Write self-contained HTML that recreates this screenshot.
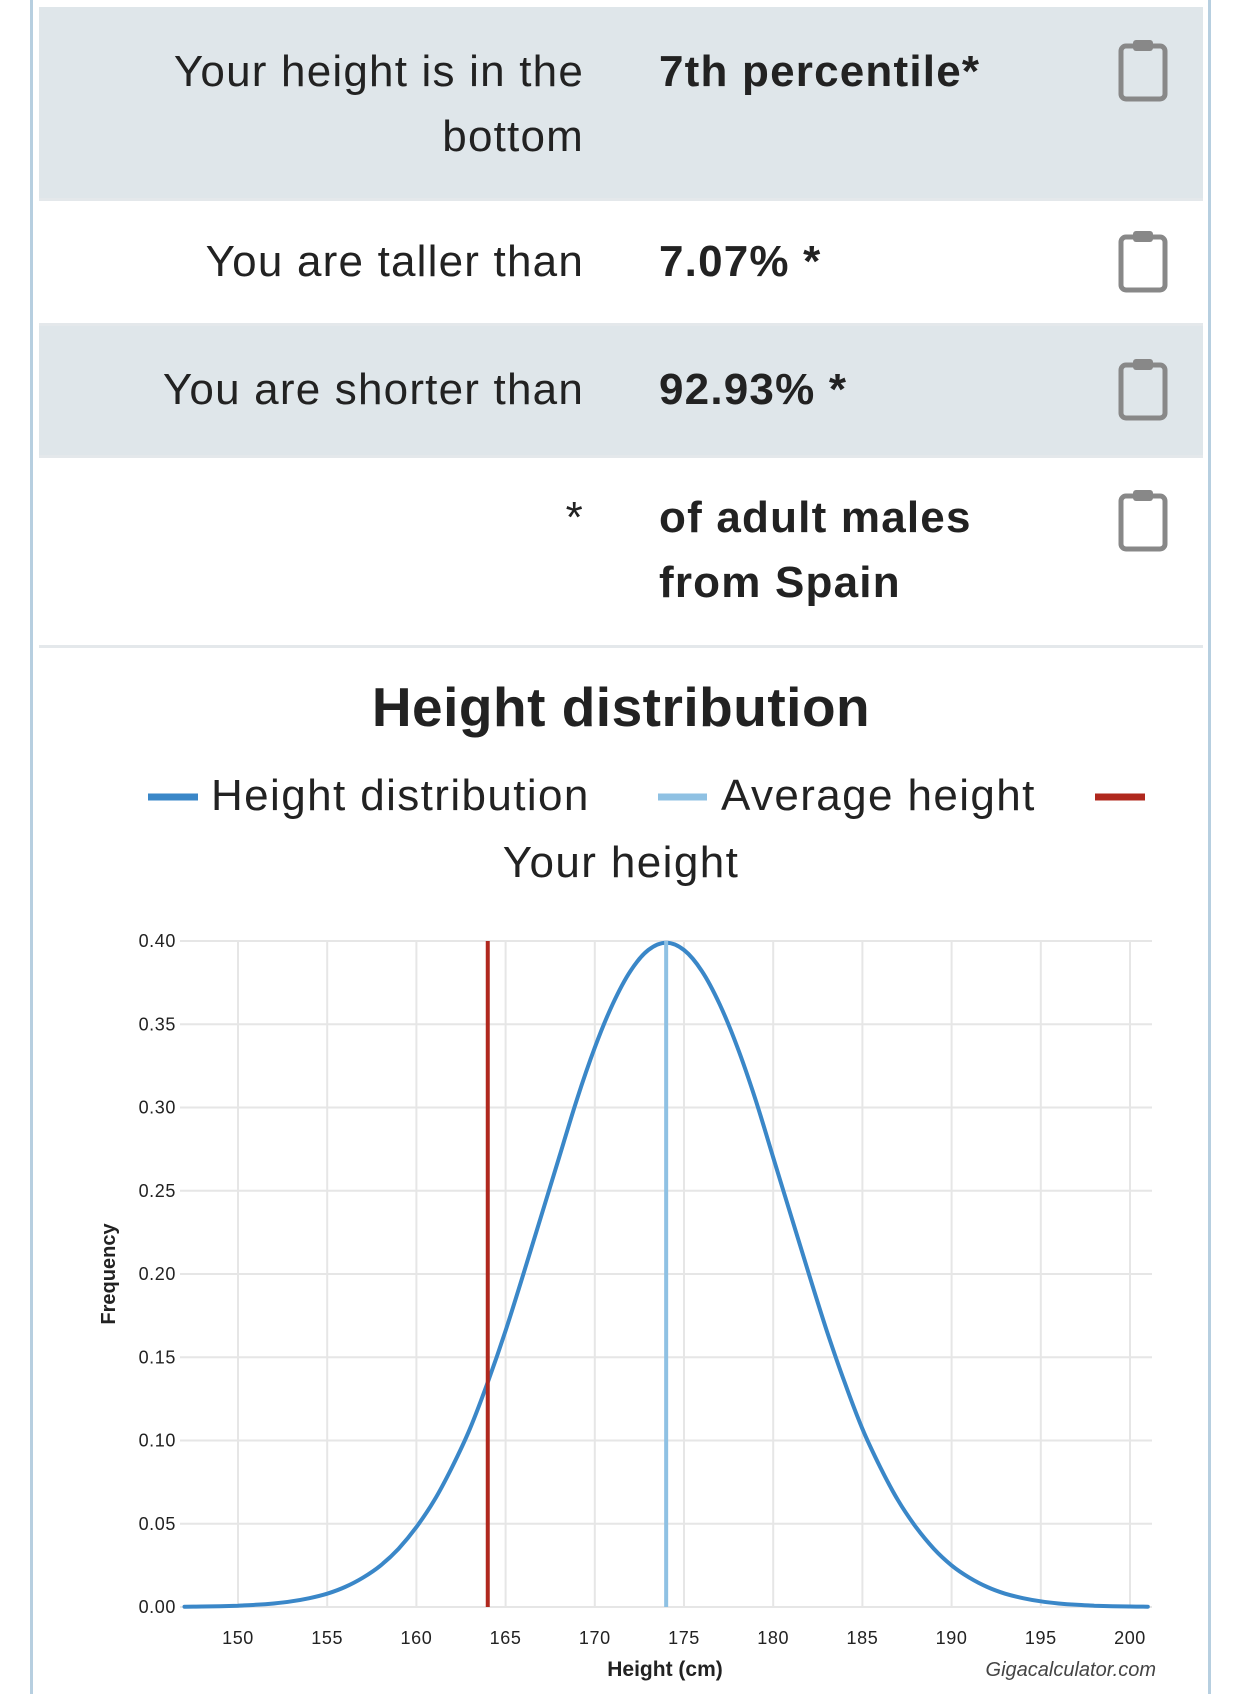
<!DOCTYPE html>
<html><head><meta charset="utf-8">
<style>
body{margin:0;width:1242px;height:1694px;background:#fff;position:relative;overflow:hidden;font-family:"Liberation Sans",sans-serif;color:#222}
.border{position:absolute;top:0;bottom:0;width:3px;background:#b7cfe0}
.row{position:absolute;left:39px;width:1164px}
.lbl{position:absolute;right:619px;text-align:right;font-size:44px;line-height:65px;letter-spacing:1.2px}
.val{position:absolute;left:620px;font-size:44px;font-weight:bold;line-height:65px;letter-spacing:1.2px}
.clip{position:absolute;left:1079px;width:50px;height:64px}
.sep{position:absolute;left:39px;width:1164px;height:3px;background:#e4e8eb}
</style></head><body>
<div class="border" style="left:30px"></div>
<div class="border" style="left:1208px"></div>

<div class="row" style="top:7px;height:191px;background:#dfe6ea">
 <div class="lbl" style="top:32px">Your height is in the<br>bottom</div>
 <div class="val" style="top:32px">7th percentile*</div>
 <svg class="clip" style="top:31px" viewBox="0 0 50 64"><rect x="3" y="8" width="44" height="53" rx="5" fill="none" stroke="#888" stroke-width="5"/><rect x="15" y="2" width="20" height="11" rx="3" fill="#888"/></svg>
</div>
<div class="sep" style="top:198px"></div>
<div class="row" style="top:201px;height:122px">
 <div class="lbl" style="top:28px">You are taller than</div>
 <div class="val" style="top:28px">7.07% *</div>
 <svg class="clip" style="top:28px" viewBox="0 0 50 64"><rect x="3" y="8" width="44" height="53" rx="5" fill="none" stroke="#888" stroke-width="5"/><rect x="15" y="2" width="20" height="11" rx="3" fill="#888"/></svg>
</div>
<div class="sep" style="top:323px"></div>
<div class="row" style="top:326px;height:129px;background:#dfe6ea">
 <div class="lbl" style="top:31px">You are shorter than</div>
 <div class="val" style="top:31px">92.93% *</div>
 <svg class="clip" style="top:31px" viewBox="0 0 50 64"><rect x="3" y="8" width="44" height="53" rx="5" fill="none" stroke="#888" stroke-width="5"/><rect x="15" y="2" width="20" height="11" rx="3" fill="#888"/></svg>
</div>
<div class="sep" style="top:455px"></div>
<div class="row" style="top:458px;height:187px">
 <div class="lbl" style="top:27px">*</div>
 <div class="val" style="top:27px">of adult males<br>from Spain</div>
 <svg class="clip" style="top:30px" viewBox="0 0 50 64"><rect x="3" y="8" width="44" height="53" rx="5" fill="none" stroke="#888" stroke-width="5"/><rect x="15" y="2" width="20" height="11" rx="3" fill="#888"/></svg>
</div>
<div class="sep" style="top:645px"></div>

<svg id="chart" width="1242" height="1694" style="position:absolute;left:0;top:0" font-family="Liberation Sans, sans-serif">
 <text x="621" y="726" text-anchor="middle" font-size="55" font-weight="bold" fill="#222" letter-spacing="0.5">Height distribution</text>
 <g letter-spacing="1.4">
  <line x1="148" y1="797" x2="198" y2="797" stroke="#3a87c8" stroke-width="7"/>
  <text x="211" y="810" font-size="44" fill="#222">Height distribution</text>
  <line x1="658" y1="797" x2="707" y2="797" stroke="#8fc1e3" stroke-width="7"/>
  <text x="721" y="810" font-size="44" fill="#222">Average height</text>
  <line x1="1095" y1="797" x2="1145" y2="797" stroke="#b0281e" stroke-width="7"/>
  <text x="621" y="877" text-anchor="middle" font-size="44" fill="#222">Your height</text>
 </g>
 <g id="grid"></g><g id="marks"></g>
 <text x="665" y="1676" text-anchor="middle" font-size="21" font-weight="bold" fill="#222">Height (cm)</text>
 <text x="1156" y="1676" text-anchor="end" font-size="20" font-style="italic" fill="#444">Gigacalculator.com</text>
 <text transform="translate(115,1274) rotate(-90)" text-anchor="middle" font-size="20" font-weight="bold" fill="#222">Frequency</text>
</svg>
<script>
const xTicks=[150,155,160,165,170,175,180,185,190,195,200];
const yTicks=[0,0.05,0.10,0.15,0.20,0.25,0.30,0.35,0.40];
const heights=[147,148,149,150,151,152,153,154,155,156,157,158,159,160,161,162,163,164,165,166,167,168,169,170,171,172,173,174,175,176,177,178,179,180,181,182,183,184,185,186,187,188,189,190,191,192,193,194,195,196,197,198,199,200,201];
const freq=[0.0002,0.0003,0.0005,0.0008,0.0013,0.0021,0.0034,0.0053,0.0080,0.0120,0.0176,0.025,0.035,0.048,0.064,0.084,0.107,0.135,0.166,0.200,0.235,0.270,0.305,0.336,0.362,0.382,0.3946,0.399,0.3946,0.382,0.362,0.336,0.305,0.270,0.235,0.200,0.166,0.135,0.107,0.084,0.064,0.048,0.035,0.025,0.0176,0.0120,0.0080,0.0053,0.0034,0.0021,0.0013,0.0008,0.0005,0.0003,0.0002];
const averageHeight=[174];
const yourHeight=[164];
const NS='http://www.w3.org/2000/svg';
const X0=180,X1=1152,Y0=1607,Y1=941;
function sx(v){return 238+(v-150)*(1130-238)/50;}
function sy(v){return Y0-(v/0.4)*(Y0-Y1);}
function mk(t,a,p){const e=document.createElementNS(NS,t);for(const k in a)e.setAttribute(k,a[k]);p.appendChild(e);return e;}
const g=document.getElementById('grid'),m=document.getElementById('marks');
xTicks.forEach(t=>{
 const l=mk('line',{x1:sx(t),x2:sx(t),y1:Y1,y2:Y0,stroke:'#e6e6e6','stroke-width':2},g);
 
 
 const tx=mk('text',{x:sx(t),y:1644,'text-anchor':'middle','font-size':18,fill:'#222','letter-spacing':0.6},g);
 tx.textContent=t;
 
 
});
yTicks.forEach(t=>{
 const l=mk('line',{x1:X0,x2:X1,y1:sy(t),y2:sy(t),stroke:'#e6e6e6','stroke-width':2},g);
 
 
 const tx=mk('text',{x:176,y:sy(t)+6,'text-anchor':'end','font-size':18,fill:'#222','letter-spacing':0.6},g);
 tx.textContent=t.toFixed(2);
 
 
});
const P=heights.map((h,i)=>[sx(h),sy(freq[i])]);
let d='M'+P[0][0].toFixed(1)+','+P[0][1].toFixed(1);
for(let i=0;i<P.length-1;i++){
 const p0=P[Math.max(0,i-1)],p1=P[i],p2=P[i+1],p3=P[Math.min(P.length-1,i+2)];
 const c1=[p1[0]+(p2[0]-p0[0])/6,p1[1]+(p2[1]-p0[1])/6];
 const c2=[p2[0]-(p3[0]-p1[0])/6,p2[1]-(p3[1]-p1[1])/6];
 d+='C'+c1[0].toFixed(1)+','+c1[1].toFixed(1)+' '+c2[0].toFixed(1)+','+c2[1].toFixed(1)+' '+p2[0].toFixed(1)+','+p2[1].toFixed(1);
}
const pl=mk('path',{d:d,fill:'none',stroke:'#3a87c8','stroke-width':4,'stroke-linejoin':'round','stroke-linecap':'round'},m);


const al=mk('line',{x1:sx(averageHeight[0]),x2:sx(averageHeight[0]),y1:Y1,y2:Y0,stroke:'#8fc1e3','stroke-width':4},m);


const yl=mk('line',{x1:sx(yourHeight[0]),x2:sx(yourHeight[0]),y1:Y1,y2:Y0,stroke:'#b0281e','stroke-width':4},m);


</script>
</body></html>
